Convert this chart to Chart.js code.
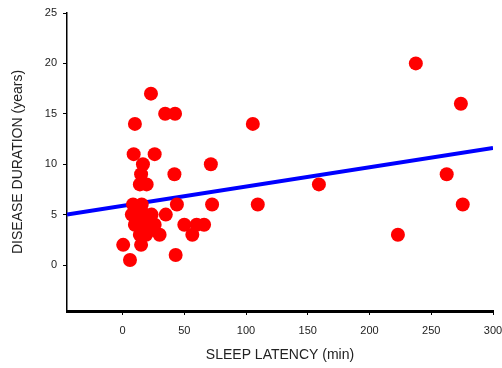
<!DOCTYPE html>
<html>
<head>
<meta charset="utf-8">
<script src="https://cdn.jsdelivr.net/npm/chart.js@4"></script>
<style>
  html, body { margin: 0; padding: 0; background: #fff; }
  #wrap { width: 502px; height: 368px; }
</style>
</head>
<body>
<div id="wrap"><canvas id="chart"></canvas></div>
<script>
// Sleep latency (min) vs disease duration (years)
const latency = [237.5, 274, 262.5, 275.5, 223, 159, 105.5, 109.5, 72.5, 71.5, 66,
    23, 34.5, 42.5, 10, 9, 26, 16.5, 15, 42, 14, 19.5, 8.5, 15.5, 44,
    7.5, 23.5, 35, 10, 26, 50, 60, 14, 30, 56.5, 0.5, 15, 6, 43,
    12, 18, 17, 21, 19, 24];
const duration = [20, 16, 9, 6, 3, 8, 14, 6, 6, 10, 4,
    17, 15, 15, 14, 11, 11, 10, 9, 9, 8, 8, 6, 6, 6,
    5, 5, 5, 4, 4, 4, 4, 3, 3, 3, 2, 2, 0.5, 1,
    5, 5, 4, 4, 3, 3.5];

// regression line end points
const fitX = [-45, 300];
const fitY = [5.0, 11.6];

const xTicks = [0, 50, 100, 150, 200, 250, 300];
const yTicks = [0, 5, 10, 15, 20, 25];

const font = { family: "'Liberation Sans', Arial, sans-serif", size: 11 };
const titleFont = { family: "'Liberation Sans', Arial, sans-serif", size: 14 };

const ctx = document.getElementById('chart').getContext('2d');
new Chart(ctx, {
    type: 'scatter',
    data: {
        datasets: [
            {
                type: 'line',
                data: fitX.map((x, i) => ({ x: x, y: fitY[i] })),
                borderColor: '#0000ff',
                borderWidth: 4,
                pointRadius: 0,
                fill: false,
                order: 2
            },
            {
                data: latency.map((x, i) => ({ x: x, y: duration[i] })),
                backgroundColor: '#ff0000',
                borderWidth: 0,
                pointRadius: 7,
                pointHoverRadius: 7,
                order: 1
            }
        ]
    },
    options: {
        responsive: true,
        maintainAspectRatio: false,
        animation: false,
        layout: { padding: { top: 13, right: 9, left: 0, bottom: 0 } },
        plugins: { legend: { display: false }, tooltip: { enabled: false } },
        scales: {
            x: {
                type: 'linear',
                min: -45,
                max: 300,
                afterBuildTicks: axis => { axis.ticks = xTicks.map(v => ({ value: v })); },
                afterFit: scale => {
                    scale.height = 57;
                    scale.paddingLeft = 0;
                    scale.paddingRight = 0;
                },
                border: { color: '#000', width: 3 },
                grid: { drawOnChartArea: false, drawTicks: true, tickLength: 4, color: '#000', lineWidth: 1 },
                ticks: { color: '#222', font: font, padding: 9, maxRotation: 0 },
                title: { display: true, text: 'SLEEP LATENCY (min)', color: '#222', font: titleFont, padding: { top: 2, bottom: 4 } }
            },
            y: {
                min: -4.56,
                max: 25,
                afterBuildTicks: axis => { axis.ticks = yTicks.map(v => ({ value: v })); },
                afterFit: scale => { scale.width = 67; },
                border: { color: '#000', width: 1.5 },
                grid: { drawOnChartArea: false, drawTicks: true, tickLength: 4, color: '#000', lineWidth: 1 },
                ticks: { color: '#222', font: font, padding: 6 },
                title: { display: true, text: 'DISEASE DURATION (years)', color: '#222', font: titleFont, padding: { top: 10, bottom: 4 } }
            }
        }
    }
});
</script>
</body>
</html>
